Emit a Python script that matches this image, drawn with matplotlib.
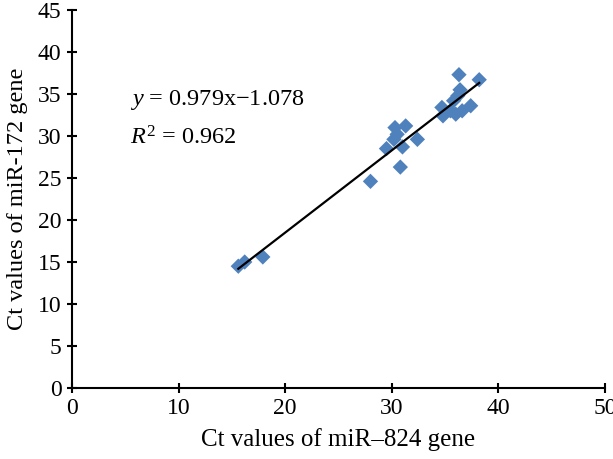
import matplotlib
matplotlib.use("Agg")
import matplotlib.pyplot as plt
import numpy as np

plt.rcParams['font.family'] = ['Liberation Serif', 'DejaVu Serif']
plt.rcParams['mathtext.fontset'] = 'custom'
plt.rcParams['mathtext.rm'] = 'Liberation Serif'
plt.rcParams['mathtext.it'] = 'Liberation Serif:italic'

mir824 = [15.6, 16.2, 17.9, 28.0, 30.8, 29.5, 31.0, 30.2, 32.4, 30.5, 30.3, 31.3,
          34.8, 36.0, 35.5, 36.6, 34.7, 37.4, 35.8, 36.2, 36.4, 38.2, 36.3]
mir172 = [14.5, 15.0, 15.6, 24.6, 26.3, 28.5, 28.7, 29.6, 29.6, 30.2, 31.0, 31.2,
          32.4, 32.6, 33.0, 33.0, 33.4, 33.6, 34.2, 34.8, 35.5, 36.7, 37.3]
slope = 0.979
intercept = -1.078
r2 = 0.962
xticks = [0, 10, 20, 30, 40, 50]
yticks = [0, 5, 10, 15, 20, 25, 30, 35, 40, 45]

H = 459
fig = plt.figure(figsize=(6.13, 4.59), dpi=100)
ax = fig.add_axes([72/613, 1-388/H, 533/613, 378/H])

ax.scatter(mir824, mir172, marker='D', s=7.8**2, color='#4F81BD', edgecolors='none', zorder=2)
xs = np.array([min(mir824), max(mir824)])
ax.plot(xs, slope*xs + intercept, color='black', lw=1.6, zorder=3)

ax.set_xlim(0, 50)
ax.set_ylim(0, 45)
ax.set_xticks(xticks)
ax.set_yticks(yticks)
for s in ['top', 'right']:
    ax.spines[s].set_visible(False)
for s in ['left', 'bottom']:
    ax.spines[s].set_linewidth(1.5)
ax.tick_params(direction='inout', length=7, width=1.5, labelsize=17, pad=4)

ax.set_xlabel('Ct values of miR–824 gene', fontsize=18, labelpad=6)
ax.set_ylabel('Ct values of miR-172 gene', fontsize=17.5, labelpad=7)

ax.text(130, H-100, r'$\mathit{y}$ = 0.979x−1.078', transform=None, fontsize=17.5,
        va='center', ha='left')
ax.text(130, H-138, r'$\mathit{R}^{2}$ = 0.962', fontsize=17.5, va='center', ha='left',
        transform=None)

fig.savefig('out.png', dpi=100)
